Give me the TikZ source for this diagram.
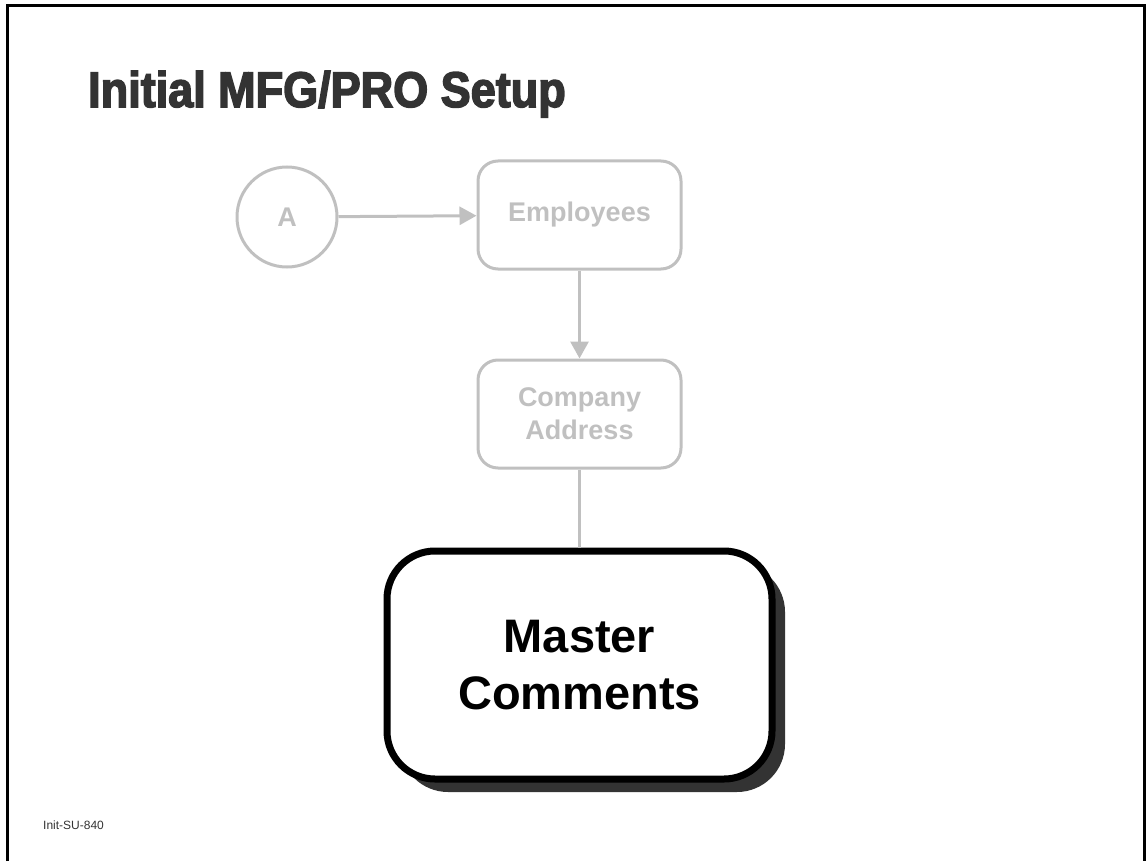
\documentclass[tikz,border=0pt]{standalone}
\usepackage{fontspec}
\setmainfont{Liberation Sans}
\newfontfamily\titlefont{Liberation Sans}[BoldFeatures={FakeBold=3,FakeStretch=0.9}]
\usepackage{tikz}
\usetikzlibrary{arrows.meta,positioning,shadows}
\definecolor{fadegray}{RGB}{192,192,192}
\definecolor{titlegray}{RGB}{51,51,51}
\tikzset{%
  % classes
  faded/.style={draw=fadegray, text=fadegray, line width=3pt, align=center,
    font=\fontsize{27}{33}\selectfont\bfseries},
  stepbox/.style={faded, rounded corners=20pt, minimum width=203pt, minimum height=108pt},
  connector/.style={faded, circle, minimum size=100pt, inner sep=0pt},
  current/.style={draw=black, line width=7pt, rounded corners=48pt, fill=white, align=center,
    minimum width=385pt, minimum height=228pt, font=\fontsize{47}{57}\selectfont\bfseries,
    drop shadow={shadow xshift=13pt, shadow yshift=-13pt, fill=titlegray, opacity=1}},
  % edge styles
  flow/.style={-{Triangle[length=17pt, width=18pt]}, draw=fadegray, line width=3pt},
  link/.style={draw=fadegray, line width=3pt},
  % texts
  heading/.style={anchor=base west, inner sep=0pt, text=titlegray,
    font=\titlefont\bfseries\fontsize{50}{58}\selectfont},
  tag/.style={anchor=base west, inner sep=0pt, text=titlegray, font=\fontsize{12}{14}\selectfont},
}

\begin{document}
\begin{tikzpicture}[x=1pt, y=-1pt]
  \useasboundingbox (0,0) rectangle (1147,861);
  \draw[line width=3pt] (7,861) -- (7,5.5) -- (1144.5,5.5) -- (1144.5,861);

  \node[heading] (title) at (88,107) {Initial MFG/PRO Setup};

  \node[connector] (A) at (287,217) {A};
  \node[stepbox] (employees) at (579.5,215) {Employees};
  \node[stepbox, below=88pt of employees] (address) {Company\\Address};
  \node[current, below=78pt of address] (comments) {Master\\Comments};

  \draw[flow] (A) -- (employees);
  \draw[flow] (employees) -- (address);
  \draw[link] (address) -- (comments);

  \node[tag] (code) at (43,829) {Init-SU-840};
\end{tikzpicture}
\end{document}
